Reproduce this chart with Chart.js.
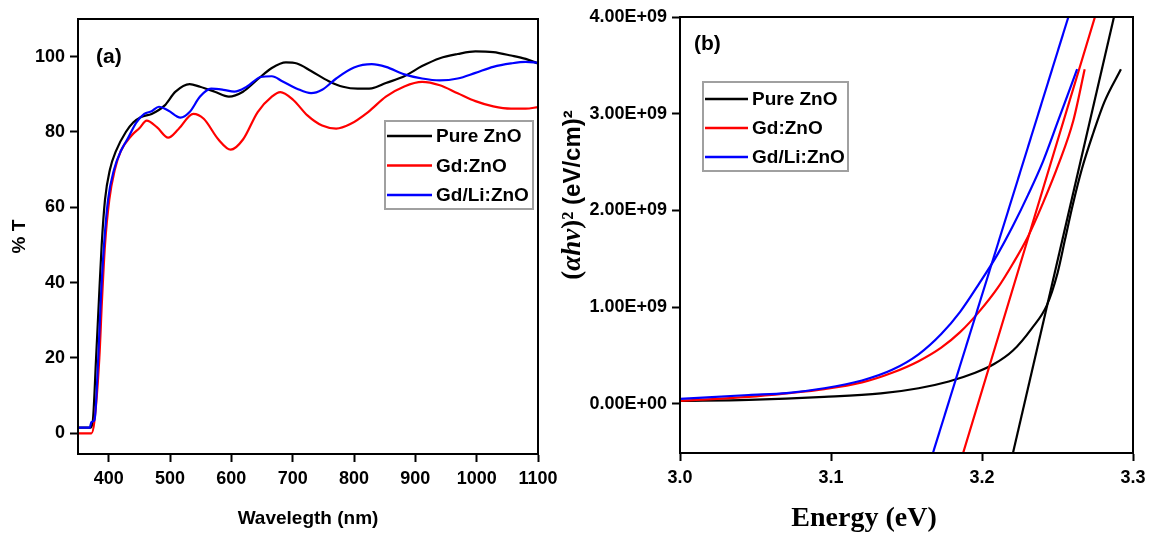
<!DOCTYPE html>
<html>
<head>
<meta charset="utf-8">
<script src="https://cdn.jsdelivr.net/npm/chart.js@4.4.1/dist/chart.umd.min.js"></script>
<style>
  body { margin: 0; background: #fff; }
  #wrapA { position: absolute; left: 0; top: 0; width: 560px; height: 536px; }
  #wrapB { position: absolute; left: 560px; top: 0; width: 593px; height: 536px; }
</style>
</head>
<body>
<div id="wrapA"><canvas id="chartA" width="560" height="536"></canvas></div>
<div id="wrapB"><canvas id="chartB" width="593" height="536"></canvas></div>
<script>
// ---- panel (a): transmittance ----
var seriesNames = ["Pure ZnO", "Gd:ZnO", "Gd/Li:ZnO"];
var seriesColors = ["#000000", "#ff0000", "#0000ff"];

var pureWl = [350, 370, 374, 379.5, 384, 388.6, 394, 402, 412, 428, 440, 453, 470, 491, 509, 532, 549, 573, 596, 619, 643, 666, 689, 707, 730, 759, 782, 806, 829, 852, 882, 911, 940, 969, 998, 1027, 1056, 1080, 1100];
var pureT = [1.5, 1.5, 3, 20, 35, 50, 62, 70, 75, 80, 82.5, 84, 84.8, 87, 90.7, 92.7, 92, 90.7, 89.4, 90.7, 94, 97, 98.5, 98.2, 96.2, 93.5, 92, 91.5, 91.6, 93, 94.8, 97.5, 99.6, 100.7, 101.4, 101.2, 100.3, 99.4, 98.2];

var gdWl = [350, 372, 376.6, 384.8, 389, 394, 401, 410, 420, 437, 450, 462, 479, 497, 514, 538, 555, 579, 599, 619, 643, 666, 680, 701, 724, 748, 771, 794, 823, 852, 882, 911, 940, 969, 998, 1027, 1056, 1080, 1100];
var gdT = [0, 0, 3, 20, 35, 50, 62, 70, 75, 79, 81, 83, 81.2, 78.5, 80.8, 84.8, 83.5, 78, 75.3, 78, 85.3, 89.4, 90.6, 88.5, 84.4, 81.7, 80.9, 82.1, 85.3, 89.4, 92.1, 93.3, 92.4, 90.3, 88.2, 86.8, 86.2, 86.2, 86.6];

var gdliWl = [350, 369, 372, 377, 383, 387, 392.4, 399, 408.7, 420, 432, 445, 458, 470, 482, 497, 517, 532, 549, 567, 587, 605, 625, 648, 666, 683, 707, 730, 748, 771, 800, 829, 852, 882, 911, 940, 969, 998, 1027, 1056, 1080, 1100];
var gdliT = [1.5, 1.5, 3, 3.6, 20, 35, 50, 62, 70, 75, 78.5, 82.5, 84.8, 85.5, 86.7, 85.7, 83.8, 85.3, 89.4, 91.5, 91.2, 90.7, 92, 94.6, 94.8, 93.5, 91.5, 90.3, 91.2, 94.2, 97.1, 98, 97.3, 95.3, 94.2, 93.7, 94.2, 95.7, 97.3, 98.2, 98.6, 98.4];

var wlTicks = [400, 500, 600, 700, 800, 900, 1000, 1100];
var tTicks = [0, 20, 40, 60, 80, 100];

// ---- panel (b): Tauc plot, values in units of 1E9 ----
var pureE = [3.0, 3.0455, 3.0955, 3.133, 3.158, 3.178, 3.1955, 3.208, 3.2205, 3.233, 3.243, 3.25, 3.255, 3.26, 3.266, 3.2737, 3.281, 3.292];
var pureA = [0.03, 0.04, 0.07, 0.106, 0.16, 0.23, 0.32, 0.41, 0.55, 0.78, 1.02, 1.35, 1.7, 2.05, 2.42, 2.8, 3.12, 3.46];

var gdE = [3.0, 3.0455, 3.0705, 3.0955, 3.1205, 3.1405, 3.158, 3.173, 3.1855, 3.198, 3.2105, 3.2205, 3.2305, 3.2405, 3.2505, 3.2605, 3.268];
var gdA = [0.03, 0.07, 0.106, 0.15, 0.22, 0.32, 0.44, 0.58, 0.74, 0.95, 1.2, 1.45, 1.73, 2.08, 2.47, 2.93, 3.46];

var gdliE = [3.0, 3.0455, 3.0705, 3.0955, 3.1205, 3.1405, 3.158, 3.173, 3.1855, 3.198, 3.2105, 3.2205, 3.2305, 3.2405, 3.2505, 3.263];
var gdliA = [0.05, 0.09, 0.11, 0.16, 0.24, 0.35, 0.51, 0.72, 0.95, 1.24, 1.55, 1.84, 2.16, 2.51, 2.93, 3.46];

// linear fits (two ends of each line)
var pureFitE = [3.2205, 3.2874];
var gdFitE = [3.1875, 3.2748];
var gdliFitE = [3.1675, 3.2572];
var fitA = [-0.51, 4.0];

var eTicks = [3.0, 3.1, 3.2, 3.3];
var aTicks = [0, 1, 2, 3, 4];

function pts(xs, ys, k)
{
    k = k || 1;
    return xs.map(function(x, i) { return { x: x, y: ys[i] * k }; });
}

function sciLabel(v)
{
    if (v === 0) return "0.00E+00";
    var e = Math.floor(Math.log10(Math.abs(v)) + 1e-9);
    var m = v / Math.pow(10, e);
    return m.toFixed(2) + "E" + (e < 0 ? "-" : "+") + String(Math.abs(e)).padStart(2, "0");
}

var tickFont = { family: "'Liberation Sans', Arial, sans-serif", size: 18, weight: "bold" };

// frame round the plot area
var frame = {
    id: "frame",
    afterDatasetsDraw: function(chart)
    {
        var a = chart.chartArea, ctx = chart.ctx;
        ctx.save();
        ctx.strokeStyle = "#000";
        ctx.lineWidth = 2;
        ctx.strokeRect(a.left, a.top, a.right - a.left, a.bottom - a.top);
        ctx.restore();
    }
};

// legend box and panel letter
var boxLegend = {
    id: "boxLegend",
    afterDraw: function(chart, args, o)
    {
        var ctx = chart.ctx;
        ctx.save();
        ctx.fillStyle = "#fff";
        ctx.fillRect(o.x, o.y, o.w, o.h);
        ctx.strokeStyle = "#a0a0a0";
        ctx.lineWidth = 2;
        ctx.strokeRect(o.x, o.y, o.w, o.h);
        ctx.font = "bold " + o.size + "px 'Liberation Sans', Arial, sans-serif";
        ctx.textBaseline = "middle";
        var items = chart.data.datasets.filter(function(d) { return !d.fit; });
        items.forEach(function(d, i)
        {
            var y = o.y + o.first + i * o.step;
            ctx.strokeStyle = d.borderColor;
            ctx.lineWidth = 2.5;
            ctx.beginPath();
            ctx.moveTo(o.x + 2, y);
            ctx.lineTo(o.x + 2 + o.line, y);
            ctx.stroke();
            ctx.fillStyle = "#000";
            ctx.fillText(d.label, o.x + o.line + 6, y + 1);
        });
        ctx.font = "bold 21px 'Liberation Sans', Arial, sans-serif";
        ctx.fillText(o.tag, o.tagX, o.tagY);
        ctx.restore();
    }
};

// titles for panel (b): mixed fonts
var bTitles = {
    id: "bTitles",
    afterDraw: function(chart)
    {
        var ctx = chart.ctx;
        ctx.save();
        ctx.fillStyle = "#000";
        ctx.textBaseline = "middle";
        ctx.font = "bold 28px 'Liberation Serif', 'Times New Roman', serif";
        ctx.textAlign = "center";
        ctx.fillText("Energy (eV)", 304, 519);

        var parts = [
            ["(", "bold 27px 'Liberation Serif', serif"],
            ["\u03b1h\u03bd", "italic bold 27px 'Liberation Serif', serif"],
            [")\u00b2 ", "bold 27px 'Liberation Serif', serif"],
            ["(eV/cm)\u00b2", "bold 24px 'Liberation Sans', Arial, sans-serif"]
        ];
        var total = 0;
        parts.forEach(function(p) { ctx.font = p[1]; total += ctx.measureText(p[0]).width; });
        ctx.translate(13, 195);
        ctx.rotate(-Math.PI / 2);
        ctx.textAlign = "left";
        var x = -total / 2;
        parts.forEach(function(p)
        {
            ctx.font = p[1];
            ctx.fillText(p[0], x, 0);
            x += ctx.measureText(p[0]).width;
        });
        ctx.restore();
    }
};

function axisGrid()
{
    return { drawOnChartArea: false, drawTicks: true, tickLength: 8, tickWidth: 2, tickColor: "#000" };
}

var chartA = new Chart(document.getElementById("chartA").getContext("2d"), {
    type: "line",
    data: {
        datasets: [
            { label: seriesNames[0], data: pts(pureWl, pureT), borderColor: seriesColors[0], order: 2 },
            { label: seriesNames[1], data: pts(gdWl, gdT), borderColor: seriesColors[1], order: 1 },
            { label: seriesNames[2], data: pts(gdliWl, gdliT), borderColor: seriesColors[2], order: 0 }
        ]
    },
    options: {
        responsive: false,
        animation: false,
        events: [],
        elements: {
            line: { borderWidth: 2.2, tension: 0.35, cubicInterpolationMode: "monotone" },
            point: { radius: 0 }
        },
        layout: { padding: { top: 19, right: 22, left: 0, bottom: 0 } },
        plugins: {
            legend: { display: false },
            tooltip: { enabled: false },
            boxLegend: { x: 385, y: 121, w: 148, h: 88, first: 15, step: 29.5, line: 45, size: 19, tag: "(a)", tagX: 96, tagY: 57 }
        },
        scales: {
            x: {
                type: "linear", min: 350, max: 1100,
                afterBuildTicks: function(s) { s.ticks = wlTicks.map(function(v) { return { value: v }; }); },
                afterFit: function(s) { s.height = 82; s.paddingLeft = 0; s.paddingRight = 0; },
                grid: axisGrid(),
                border: { display: true, color: "#000", width: 2 },
                ticks: { font: tickFont, color: "#000", padding: 6, maxRotation: 0, callback: function(v) { return String(v); } },
                title: { display: true, text: "Wavelegth (nm)", color: "#000", font: { family: "'Liberation Sans', Arial, sans-serif", size: 19, weight: "bold" }, padding: { top: 0, bottom: 6 } }
            },
            y: {
                type: "linear", min: -5.5, max: 110,
                afterBuildTicks: function(s) { s.ticks = tTicks.map(function(v) { return { value: v }; }); },
                afterFit: function(s) { s.width = 78; s.paddingTop = 0; s.paddingBottom = 0; },
                grid: axisGrid(),
                border: { display: true, color: "#000", width: 2 },
                ticks: { font: tickFont, color: "#000", padding: 5, callback: function(v) { return String(v); } },
                title: { display: true, text: "% T", color: "#000", font: { family: "'Liberation Sans', Arial, sans-serif", size: 19, weight: "bold" }, padding: { top: 8, bottom: 0 } }
            }
        }
    },
    plugins: [frame, boxLegend]
});

var chartB = new Chart(document.getElementById("chartB").getContext("2d"), {
    type: "line",
    data: {
        datasets: [
            { label: seriesNames[0], data: pts(pureE, pureA, 1e9), borderColor: seriesColors[0], order: 2 },
            { label: seriesNames[1], data: pts(gdE, gdA, 1e9), borderColor: seriesColors[1], order: 1 },
            { label: seriesNames[2], data: pts(gdliE, gdliA, 1e9), borderColor: seriesColors[2], order: 0 },
            { label: "fit", fit: true, data: pts(pureFitE, fitA, 1e9), borderColor: seriesColors[0], tension: 0, order: 0 },
            { label: "fit", fit: true, data: pts(gdFitE, fitA, 1e9), borderColor: seriesColors[1], tension: 0, order: 0 },
            { label: "fit", fit: true, data: pts(gdliFitE, fitA, 1e9), borderColor: seriesColors[2], tension: 0, order: 0 }
        ]
    },
    options: {
        responsive: false,
        animation: false,
        events: [],
        elements: {
            line: { borderWidth: 2.2, tension: 0.35, cubicInterpolationMode: "monotone" },
            point: { radius: 0 }
        },
        layout: { padding: { top: 17, right: 20, left: 0, bottom: 0 } },
        plugins: {
            legend: { display: false },
            tooltip: { enabled: false },
            boxLegend: { x: 143, y: 82, w: 145, h: 89, first: 17, step: 29, line: 43, size: 19, tag: "(b)", tagX: 134, tagY: 44 }
        },
        scales: {
            x: {
                type: "linear", min: 3.0, max: 3.3,
                afterBuildTicks: function(s) { s.ticks = eTicks.map(function(v) { return { value: v }; }); },
                afterFit: function(s) { s.height = 83; s.paddingLeft = 0; s.paddingRight = 0; },
                grid: axisGrid(),
                border: { display: true, color: "#000", width: 2 },
                ticks: { font: tickFont, color: "#000", padding: 6, maxRotation: 0, callback: function(v) { return v.toFixed(1); } }
            },
            y: {
                type: "linear", min: -5.1e8, max: 4e9,
                afterBuildTicks: function(s) { s.ticks = aTicks.map(function(v) { return { value: v * 1e9 }; }); },
                afterFit: function(s) { s.width = 120; s.paddingTop = 0; s.paddingBottom = 0; },
                grid: axisGrid(),
                border: { display: true, color: "#000", width: 2 },
                ticks: { font: tickFont, color: "#000", padding: 5, callback: function(v) { return sciLabel(v); } }
            }
        }
    },
    plugins: [frame, boxLegend, bTitles]
});
</script>
</body>
</html>
